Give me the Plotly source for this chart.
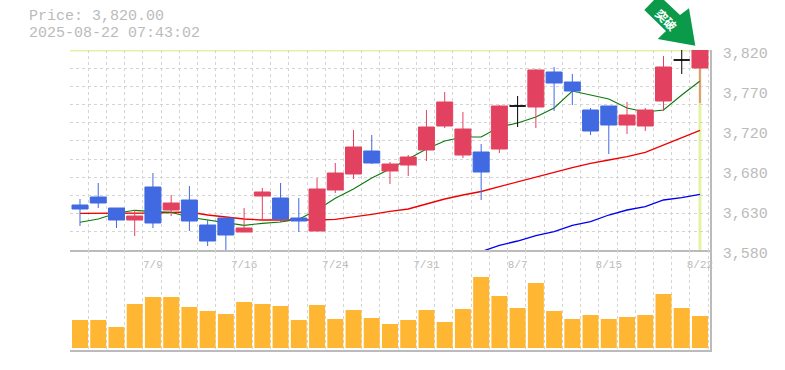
import plotly.graph_objects as go

dates = ["7/3","7/4","7/7","7/8","7/9","7/10","7/11","7/14","7/15","7/16","7/17","7/18","7/22","7/23","7/24","7/25","7/28","7/29","7/30","7/31","8/1","8/4","8/5","8/6","8/7","8/8","8/12","8/13","8/14","8/15","8/18","8/19","8/20","8/21","8/22"]
opens = [3634,3643.6,3630.4,3616,3655.6,3628,3640,3610,3618.4,3601.6,3644.8,3642.4,3618.4,3602.8,3652,3671.2,3698.8,3674.8,3682,3700,3728.8,3694,3697.6,3701.2,3752.8,3751.6,3793.6,3781.6,3748,3752.8,3730,3728.8,3758.8,3808,3798.4]
highs = [3641.2,3660.4,3630.4,3628,3672.4,3646,3656.8,3616,3618.4,3630.4,3654.4,3660.4,3642.4,3666.4,3684.4,3724,3718,3685.6,3694,3748,3769.6,3745.6,3707.2,3754,3764.8,3797.2,3799.6,3791.2,3750.4,3752.8,3757.6,3750.4,3812.8,3820,3820]
lows = [3608.8,3630.4,3606.4,3596.8,3606.4,3620.8,3602.8,3584.8,3580,3601.6,3617.2,3613.6,3601.6,3602.8,3648.4,3665.2,3683.2,3659.2,3668.8,3686.8,3726.4,3690.4,3640,3696.4,3727.6,3726.4,3746.8,3754,3718,3695.2,3719.2,3722.8,3746.8,3791.2,3756.4]
closes = [3629.2,3636.4,3616,3620.8,3612.4,3636.4,3614.8,3590.8,3598,3606.4,3649.6,3617.2,3614.8,3653.2,3672.4,3703.6,3684.4,3683.2,3691.6,3727.6,3757.6,3725.2,3673.6,3752.8,3752.8,3796,3780.4,3770.8,3722.8,3730,3742,3748,3799.6,3808,3820]
ma_green = [3613.2,3617.2,3624,3627.6,3626,3625.2,3619.2,3616,3612.8,3609.6,3612,3613.6,3616.8,3628,3642,3653.2,3666.4,3677.2,3689.2,3701.2,3710.8,3715.6,3715.6,3727.6,3732.4,3739.6,3750.4,3770.8,3766,3761.2,3750.4,3745.6,3748,3766,3782.8]
ma_red = [3624,3624,3623.8,3624,3624.4,3625,3625.6,3622,3619.6,3617.2,3616,3616,3615.2,3616,3616.8,3619.6,3622.8,3626.4,3629.2,3635.2,3641.2,3646,3650.2,3656,3662,3667.2,3673.2,3678.8,3684,3688,3692,3697.2,3706,3714.8,3723.6]
ma_blue = [None]*22 + [3578,3585.6,3590.8,3597.2,3602,3609.6,3614,3622,3628,3632,3640,3642.8,3646.8]
volumes = [28,28,21,44,51,51,41,37,34,46,44,42,28,43,29,38,30,24,28,38,26,39,71,52,40,65,37,29,33,29,31,33,54,40,32]
label_every = dates[4::5]
y_tick_vals = [3820,3772,3724,3676,3628,3580]
y_tick_text = ["3,820","3,770","3,720","3,680","3,630","3,580"]
price_label = "Price: 3,820.00"
time_label = "2025-08-22 07:43:02"
signal_text = "突破"

W, H = 785, 370
FONT = "Liberation Mono"
GRID = "#d4d4d4"
AXIS = "#bbbbbb"
TXT = "#bbbbbb"
RED = "#e2425f"
BLUE = "#4169e1"
HL = "#e3f2a5"

xs = list(range(len(dates)))
doji = [i for i in xs if opens[i] == closes[i]]
solid = [i for i in xs if opens[i] != closes[i]]
pick = lambda arr, idx: [arr[i] for i in idx]

fig = go.Figure()
for vals, col, w in [(ma_blue, "#0000ee", 1.3), (ma_red, "#ee0000", 1.3), (ma_green, "#0a7a0a", 1.1)]:
    fig.add_trace(go.Scatter(x=xs, y=vals, mode="lines", line=dict(color=col, width=w), cliponaxis=False,
                             xaxis="x", yaxis="y", showlegend=False, hoverinfo="skip"))
fig.add_trace(go.Candlestick(x=solid, open=pick(opens, solid), high=pick(highs, solid), low=pick(lows, solid),
                             close=pick(closes, solid), xaxis="x", yaxis="y3", showlegend=False, whiskerwidth=0,
                             increasing=dict(line=dict(color=RED, width=1), fillcolor=RED),
                             decreasing=dict(line=dict(color=BLUE, width=1), fillcolor=BLUE)))
fig.add_trace(go.Candlestick(x=doji, open=pick(opens, doji), high=pick(highs, doji), low=pick(lows, doji),
                             close=pick(closes, doji), xaxis="x", yaxis="y3", showlegend=False, whiskerwidth=0,
                             increasing=dict(line=dict(color="#000000", width=1), fillcolor="#000000"),
                             decreasing=dict(line=dict(color="#000000", width=1), fillcolor="#000000")))
fig.add_trace(go.Bar(x=xs, y=volumes, marker=dict(color="#ffb733", line=dict(width=0)), xaxis="x2", yaxis="y2",
                     showlegend=False, hoverinfo="skip"))

x_range = [-0.548, 34.55]
grid_x = [-0.55 + k for k in range(36)]
y_range = [3580, 3820]
grid_y = [3820 - 240 * k / 11 for k in range(12)]
tick_idx = [dates.index(d) for d in label_every]

def px_x(v): return v / W
def px_y(v): return 1 - v / H

arrow_pts = [(644.3,10),(654,0),(664,0),(680,15),(689,8.3),(695.3,45.7),(657.7,39),(666,31)]
arrow_path = "M" + " L".join(f"{px_x(a):.5f},{px_y(b):.5f}" for a, b in arrow_pts) + " Z"

fig.update_layout(
    width=W, height=H, margin=dict(l=0, r=0, t=0, b=0), autosize=False,
    paper_bgcolor="white", plot_bgcolor="white", bargap=0.123, boxgap=0.123, boxgroupgap=0, showlegend=False,
    font=dict(family=FONT, color=TXT),
    xaxis=dict(domain=[70/W, 710/W], range=x_range, anchor="y", showgrid=False, zeroline=False, automargin=False,
               tickmode="array", tickvals=tick_idx, ticktext=label_every, ticks="",
               tickfont=dict(family=FONT, size=11, color=TXT), showline=True, linecolor=AXIS, linewidth=1.5,
               rangeslider=dict(visible=False), ticklabelstandoff=3,
               minor=dict(tickmode="array", tickvals=grid_x, showgrid=True, gridcolor=GRID, griddash="3px,3px", gridwidth=1, ticks="")),
    xaxis2=dict(domain=[70/W, 710/W], range=x_range, anchor="y2", showgrid=False, zeroline=False, showticklabels=False, automargin=False,
                ticks="", showline=True, linecolor=AXIS, linewidth=1.5, tickmode="array", tickvals=[],
                minor=dict(tickmode="array", tickvals=grid_x, showgrid=True, gridcolor=GRID, griddash="3px,3px", gridwidth=1, ticks="")),
    yaxis=dict(domain=[1-250/H, 1-50/H], range=y_range, anchor="x", side="right", showgrid=False, zeroline=False, automargin=False,
               tickmode="array", tickvals=y_tick_vals, ticktext=y_tick_text, ticks="",
               tickfont=dict(family=FONT, size=15, color=TXT), showline=True, linecolor=AXIS, linewidth=1.5,
               ticklabelstandoff=8, ticklabelshift=3,
               minor=dict(tickmode="array", tickvals=grid_y, showgrid=True, gridcolor=GRID, griddash="3px,3px", gridwidth=1, ticks="")),
    yaxis2=dict(domain=[1-350/H, 1-250/H], range=[-2, 98], anchor="x2", side="right", showgrid=False, zeroline=False, automargin=False,
                showticklabels=False, ticks="", showline=True, linecolor=AXIS, linewidth=1.5),
    yaxis3=dict(domain=[1-250/H, 1-50/H], range=y_range, overlaying="y", anchor="x", side="right", visible=False, automargin=False),
    shapes=[
        dict(type="line", xref="x", yref="y", x0=x_range[0], x1=x_range[1], y0=closes[-1], y1=closes[-1],
             line=dict(color=HL, width=3), layer="below"),
        dict(type="line", xref="x", yref="y", x0=xs[-1], x1=xs[-1], y0=y_range[0], y1=closes[-1],
             line=dict(color=HL, width=3), layer="below"),
        dict(type="path", xref="paper", yref="paper", path=arrow_path, fillcolor="#0a9a4a", line=dict(width=0), layer="above"),
    ],
    annotations=[
        dict(text=price_label, xref="paper", yref="paper", x=px_x(28), y=px_y(16.5), xanchor="left", yanchor="middle",
             showarrow=False, borderpad=0, font=dict(family=FONT, size=15, color=TXT)),
        dict(text=time_label, xref="paper", yref="paper", x=px_x(28), y=px_y(33.5), xanchor="left", yanchor="middle",
             showarrow=False, borderpad=0, font=dict(family=FONT, size=15, color=TXT)),
        dict(text=signal_text, xref="paper", yref="paper", x=px_x(667), y=px_y(19), xanchor="center", yanchor="middle",
             textangle=45, showarrow=False, font=dict(family="Noto Sans CJK JP", size=12, color="white", weight="bold")),
    ],
)
fig.write_html("out.html", config=dict(displayModeBar=False),
               post_script="document.body.style.margin='0';document.body.style.padding='0';document.documentElement.style.overflow='hidden';")
